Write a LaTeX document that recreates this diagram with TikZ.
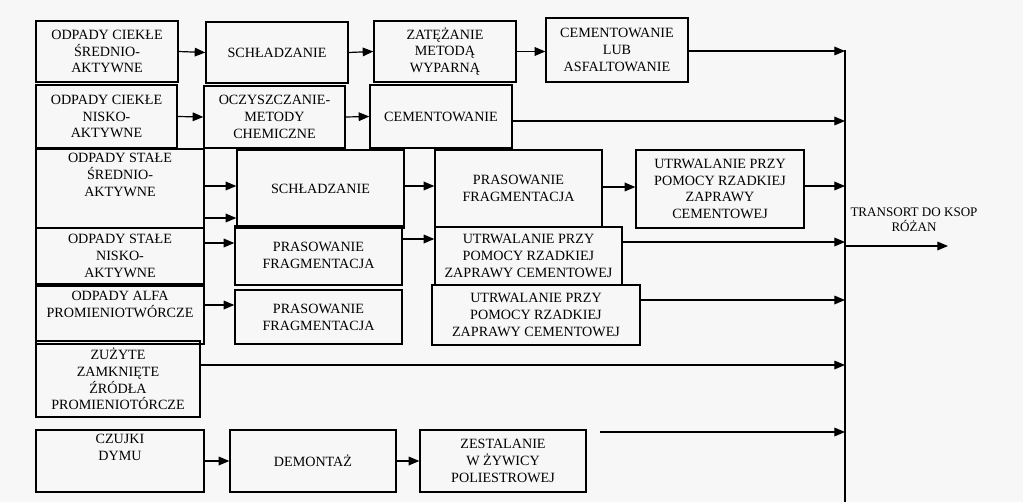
\documentclass[tikz,border=0pt]{standalone}
\usepackage{fontspec}
\setmainfont{Liberation Serif}
\usetikzlibrary{arrows.meta,calc}
\newcommand\bx[6]{\node[boxst,minimum width={(#4-#2)*0.75pt},minimum height={(#5-#3)*0.75pt}] (#1) at ({(#2+#4)/2},{(#3+#5)/2}) {#6};}
\begin{document}
\begin{tikzpicture}[x=0.75pt,y=-0.75pt,
  boxst/.style={draw,line width=1pt,align=center,inner sep=0pt,font=\fontsize{10.6}{12.6}\selectfont},
  arr/.style={line width=0.9pt,-{Triangle[length=8pt,width=6.5pt]}},
  lab/.style={align=center,font=\fontsize{9.8}{11.5}\selectfont}]
\fill[gray!6] (0,0) rectangle (1023,502);
\useasboundingbox (0,0) rectangle (1023,502);
\bx{a1}{36}{21}{178}{82}{ODPADY CIEKŁE\\ŚREDNIO-\\AKTYWNE}
\bx{a2}{206}{22}{348}{83}{SCHŁADZANIE}
\bx{a3}{374}{21}{516}{82}{ZATĘŻANIE\\METODĄ\\WYPARNĄ}
\bx{a4}{546}{18}{688}{82}{CEMENTOWANIE\\LUB\\ASFALTOWANIE}
\bx{b1}{36}{85}{177}{148}{ODPADY CIEKŁE\\NISKO-\\AKTYWNE}
\bx{b2}{204}{86}{345}{148}{OCZYSZCZANIE-\\METODY\\CHEMICZNE}
\bx{b3}{370}{85}{512}{148}{CEMENTOWANIE}
\bx{c1}{36}{149}{204}{228}{ODPADY STAŁE\\ŚREDNIO-\\AKTYWNE\\[8pt]}
\bx{c2}{237}{150}{404}{228}{SCHŁADZANIE}
\bx{c3}{435}{150}{602}{227}{PRASOWANIE\\FRAGMENTACJA}
\bx{c4}{636}{150}{804}{228}{UTRWALANIE PRZY\\POMOCY RZADKIEJ\\ZAPRAWY\\CEMENTOWEJ}
\bx{d1}{36}{228}{204}{284}{ODPADY STAŁE\\NISKO-\\AKTYWNE}
\bx{d2}{235}{226}{402}{285}{PRASOWANIE\\FRAGMENTACJA}
\bx{d3}{435}{227}{622}{285}{UTRWALANIE PRZY\\POMOCY RZADKIEJ\\ZAPRAWY CEMENTOWEJ}
\bx{e1}{36}{286}{204}{344}{ODPADY ALFA\\PROMIENIOTWÓRCZE\\[4pt]}
\bx{e2}{235}{290}{402}{344}{PRASOWANIE\\FRAGMENTACJA}
\bx{e3}{432}{285}{640}{345}{UTRWALANIE PRZY\\POMOCY RZADKIEJ\\ZAPRAWY CEMENTOWEJ}
\bx{f1}{36}{341}{200}{417}{ZUŻYTE\\ZAMKNIĘTE\\ŹRÓDŁA\\PROMIENIOTÓRCZE}
\bx{g1}{36}{430}{204}{492}{CZUJKI\\DYMU\\[8pt]}
\bx{g2}{230}{430}{396}{492}{DEMONTAŻ}
\bx{g3}{420}{430}{586}{492}{ZESTALANIE\\W ŻYWICY\\POLIESTROWEJ}
\node[lab] (tr) at (914,220) {TRANSORT DO KSOP\\RÓŻAN};
\coordinate (vt) at (845,50);
\coordinate (vb) at (845,502);
\draw[line width=1pt] (vt) -- (vb);
\draw[arr] (a1.east) -- (a2.west);
\draw[arr] (a2.east) -- (a3.west);
\draw[arr] (a3.east) -- (a4.west|-a3.east);
\draw[arr] (b1.east) -- (b2.west);
\draw[arr] (b2.east) -- (b3.west);
\draw[arr] (c1.east|-0,186) -- (c2.west|-0,186);
\draw[arr] (c1.east|-0,218) -- (c2.west|-0,218);
\draw[arr] (c2.east|-0,186) -- (c3.west|-0,186);
\draw[arr] (c3.east|-0,187) -- (c4.west|-0,187);
\draw[arr] (d1.east|-0,243) -- (d2.west|-0,243);
\draw[arr] (d2.east|-0,239) -- (d3.west|-0,239);
\draw[arr] (e1.east|-0,305) -- (e2.west|-0,305);
\draw[arr] (g1.east|-0,461) -- (g2.west|-0,461);
\draw[arr] (g2.east|-0,461) -- (g3.west|-0,461);
\draw[arr] (a4.east|-0,51) -- (vt|-0,51);
\draw[arr] (b3.east|-0,121) -- (vt|-0,121);
\draw[arr] (c4.east|-0,186) -- (vt|-0,186);
\draw[arr] (d3.east|-0,242) -- (vt|-0,242);
\draw[arr] (e3.east|-0,300) -- (vt|-0,300);
\draw[arr] (f1.east|-0,365) -- (vt|-0,365);
\coordinate (gs) at (600,432);
\draw[arr] (gs) -- (vt|-gs);
\coordinate (te) at (948,246);
\draw[arr] (vt|-te) -- (te);
\end{tikzpicture}
\end{document}
